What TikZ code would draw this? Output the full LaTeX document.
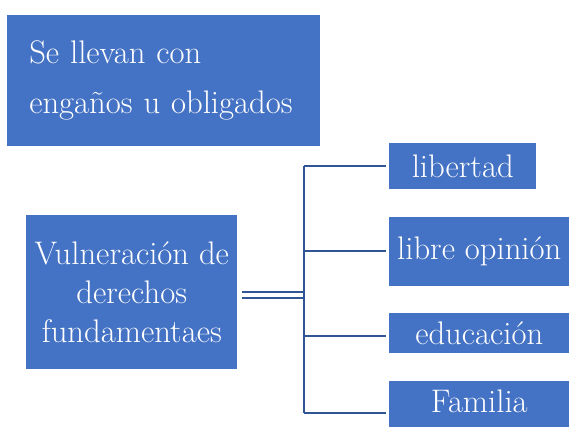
\documentclass[tikz,border=0pt]{standalone}
\usepackage{tikz}

\definecolor{boxblue}{RGB}{68,114,196}
\definecolor{lineblue}{RGB}{47,85,151}

\tikzset{
  bluebox/.style={fill=boxblue, text=white, inner sep=0pt, anchor=north west,
    font=\fontsize{24.5}{29}\selectfont},
  link/.style={lineblue, line width=1.5pt}
}

\begin{document}
\begin{tikzpicture}[x=0.75pt, y=-0.75pt]

\useasboundingbox (0,0) rectangle (569,426);

% Boxes
\node[bluebox, minimum width=234.75pt, minimum height=98.25pt,
  align=left, text width=201.75pt, inner xsep=16.5pt,
  font=\fontsize{24.5}{37.5}\selectfont] (engano) at (7,15)
  {Se llevan con\\engaños u obligados};
\node[bluebox, minimum width=158.25pt, minimum height=115.5pt, align=center] (vuln) at (26,215)
  {Vulneración de\\derechos\\fundamentaes};

\node[bluebox, minimum width=110.25pt, minimum height=34.5pt] (lib) at (389,143) {libertad};
\node[bluebox, minimum width=135pt, minimum height=51.75pt] (opin) at (389,217) {libre opinión};
\node[bluebox, minimum width=135pt, minimum height=30pt] (edu) at (389,313) {educación};
\node[bluebox, minimum width=135pt, minimum height=48pt, text depth=18pt] (fam) at (389,381) {Familia};

% Bus
\coordinate (b1) at (304,166);
\coordinate (b2) at (304,251);
\coordinate (b3) at (304,336);
\coordinate (b4) at (304,413);
\draw[link] (b1) -- (b4);
\draw[link, shorten >=2.25pt] (b1) -- (b1 -| lib.west);
\draw[link, shorten >=2.25pt] (b2) -- (b2 -| opin.west);
\draw[link, shorten >=2.25pt] (b3) -- (b3 -| edu.west);
\draw[link, shorten >=2.25pt] (b4) -- (b4 -| fam.west);

% Double line
\draw[link, line width=2.2pt, shorten <=3pt] (vuln.east |- 0,292) -- (b1 |- 0,292);
\draw[link, shorten <=3pt] (vuln.east |- 0,298) -- (b1 |- 0,298);

\end{tikzpicture}
\end{document}
